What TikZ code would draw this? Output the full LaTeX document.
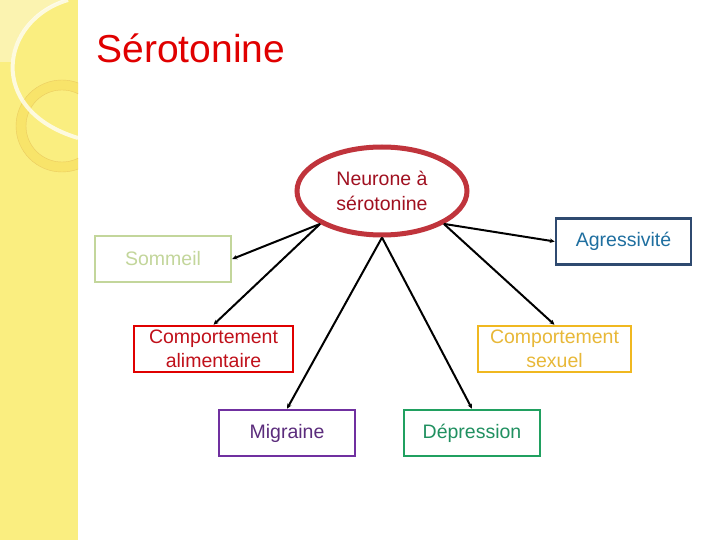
\documentclass[tikz,border=0pt]{standalone}
\usepackage{fontspec}
\setmainfont{Liberation Sans}
\usetikzlibrary{shapes.geometric,arrows.meta}

\definecolor{bandyellow}{HTML}{FAEE80}
\definecolor{bandlight}{HTML}{FBF3B0}
\definecolor{ringyellow}{HTML}{F8E46A}
\definecolor{ringline}{HTML}{EBCB60}
\definecolor{titlered}{HTML}{E00000}
\definecolor{neurored}{HTML}{C0343C}
\definecolor{neurotext}{HTML}{A01020}
\definecolor{agrblue}{HTML}{2F4A70}
\definecolor{agrtext}{HTML}{1F6FA0}
\definecolor{somgreen}{HTML}{C3D69B}
\definecolor{alimred}{HTML}{E00000}
\definecolor{alimtext}{HTML}{C0101A}
\definecolor{migpurple}{HTML}{7030A0}
\definecolor{migtext}{HTML}{5B2C7C}
\definecolor{sexorange}{HTML}{F0B820}
\definecolor{sextext}{HTML}{E8B838}
\definecolor{depgreen}{HTML}{20A060}
\definecolor{deptext}{HTML}{209060}

\tikzset{
    effet/.style={draw, line width=2.5pt, minimum height=46pt, align=center,
        font=\fontsize{19.5}{24}\selectfont, inner sep=2pt},
    lien/.style={line width=2pt, -{Stealth[length=5pt,width=4.5pt]}}
}

\begin{document}
\begin{tikzpicture}[x=1pt, y=-1pt]
    \useasboundingbox (0,0) rectangle (720,540);
    \fill[white] (0,0) rectangle (720,540);

    % bande jaune
    \begin{scope}
        \clip (0,0) rectangle (78,540);
        \fill[bandyellow] (0,0) rectangle (78,540);
        \begin{scope}
            \clip (0,0) rectangle (78,62);
            \fill[bandlight] (0,0) -- (66,0) .. controls (-2,20) and (-17,110) .. (76,138) -- (0,138) -- cycle;
        \end{scope}
        \fill[ringyellow, even odd rule] (62,126) circle (46) (62,126) circle (36);
        \draw[ringline, line width=0.4pt] (62,126) circle (46) (62,126) circle (36);
        \draw[white, opacity=0.75, line width=4pt] (68,0) .. controls (0,20) and (-15,110) .. (78,138);
    \end{scope}

    % titre
    \node[titlered, font=\fontsize{39}{44}\selectfont, anchor=west] (titre) at (93,48) {Sérotonine};

    % neurone
    \node[ellipse, draw=neurored, line width=5pt, minimum width=170pt, minimum height=88pt,
        text=neurotext, align=center, font=\fontsize{19.5}{25}\selectfont] (neurone) at (382,191)
        {Neurone à\\sérotonine};

    % effets
    \node[effet, draw=agrblue, text=agrtext, minimum width=135pt] (agr) at (623.5,241.5) {Agressivité};
    \node[effet, draw=somgreen, text=somgreen, minimum width=136pt] (som) at (163,259) {Sommeil};
    \node[effet, draw=alimred, text=alimtext, minimum width=159pt] (alim) at (213.5,349) {Comportement\\alimentaire};
    \node[effet, draw=migpurple, text=migtext, minimum width=136pt] (mig) at (287,433) {Migraine};
    \node[effet, draw=sexorange, text=sextext, minimum width=153pt] (sex) at (554.5,349) {Comportement\\sexuel};
    \node[effet, draw=depgreen, text=deptext, minimum width=136pt] (dep) at (472,433) {Dépression};

    % liens
    \draw[lien] (neurone.208) -- (som.east);
    \draw[lien] (neurone.208) -- (alim.north);
    \draw[lien] (neurone.south) -- (mig.north);
    \draw[lien] (neurone.south) -- (dep.north);
    \draw[lien] (neurone.332) -- (sex.north);
    \draw[lien] (neurone.332) -- (agr.west);
\end{tikzpicture}
\end{document}
